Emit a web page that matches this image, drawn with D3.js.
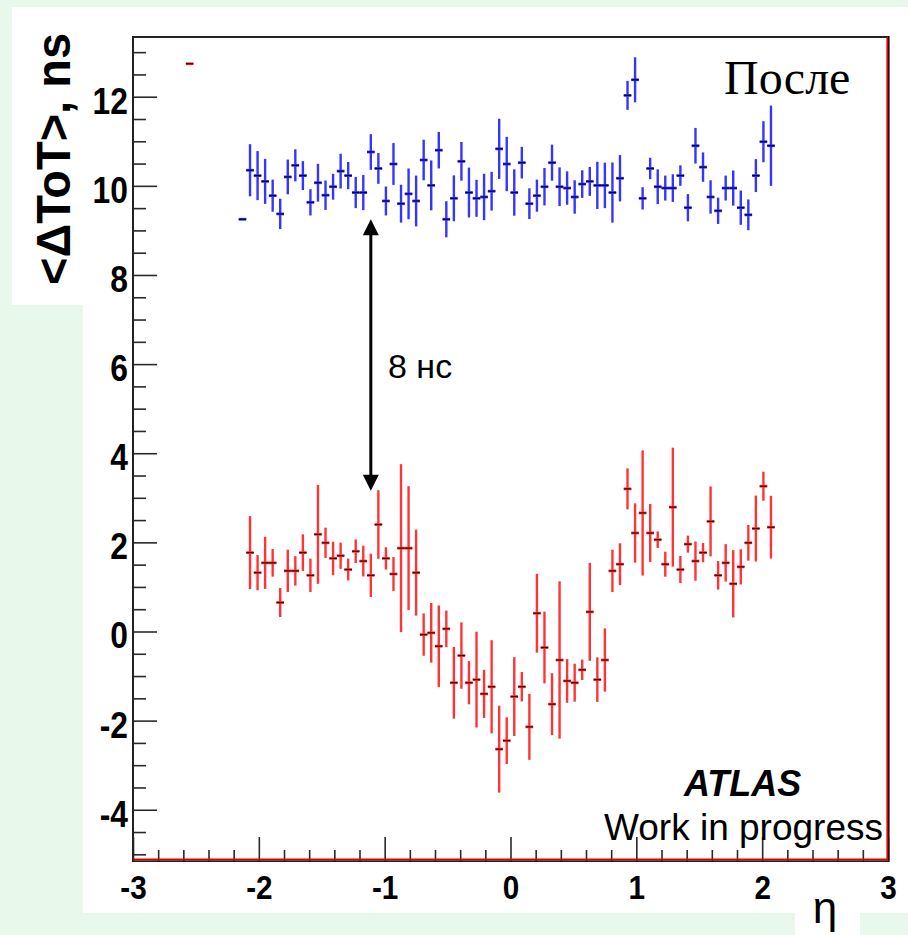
<!DOCTYPE html>
<html>
<head>
<meta charset="utf-8">
<script src="https://cdn.jsdelivr.net/npm/d3@7"></script>
<style>
  html, body { margin: 0; padding: 0; background: #e8f8ea; }
  svg { display: block; }
</style>
</head>
<body>
<svg id="chart" width="908" height="935"></svg>
<script>
// η bin centres (bin width 0.06) for the measured points
const etaCenters = [
  -2.07, -2.01, -1.95, -1.89, -1.83, -1.77, -1.71, -1.65, -1.59, -1.53,
  -1.47, -1.41, -1.35, -1.29, -1.23, -1.17, -1.11, -1.05, -0.99, -0.93,
  -0.87, -0.81, -0.75, -0.69, -0.63, -0.57, -0.51, -0.45, -0.39, -0.33,
  -0.27, -0.21, -0.15, -0.09, -0.03, 0.03, 0.09, 0.15, 0.21, 0.27,
  0.33, 0.39, 0.45, 0.51, 0.57, 0.63, 0.69, 0.75, 0.81, 0.87,
  0.93, 0.99, 1.05, 1.11, 1.17, 1.23, 1.29, 1.35, 1.41, 1.47,
  1.53, 1.59, 1.65, 1.71, 1.77, 1.83, 1.89, 1.95, 2.01, 2.07
];
const binWidth = 0.06;

// <ΔToT> after correction (blue)
const afterValues = [
  10.35, 10.23, 10.10, 9.78, 9.37, 10.20, 10.46, 10.23, 9.63, 10.07,
  9.79, 9.98, 10.33, 10.23, 9.85, 9.85, 10.76, 10.39, 9.66, 10.49,
  9.60, 9.82, 9.66, 10.58, 10.01, 10.80, 9.25, 9.72, 10.55, 9.85,
  9.72, 9.75, 9.88, 10.83, 10.49, 9.85, 10.52, 9.60, 9.78, 9.98,
  10.52, 9.98, 9.95, 9.75, 10.04, 10.10, 10.01, 10.01, 9.85, 10.17,
  12.03, 12.38, 9.72, 10.39, 9.98, 9.95, 9.95, 10.23, 9.51, 10.90,
  10.42, 9.75, 9.44, 9.95, 9.95, 9.51, 9.35, 10.23, 10.99, 10.90
];
const afterErrors = [
  0.585, 0.55, 0.505, 0.36, 0.34, 0.39, 0.36, 0.325, 0.295, 0.425,
  0.33, 0.29, 0.39, 0.305, 0.35, 0.395, 0.40, 0.345, 0.325, 0.47,
  0.425, 0.57, 0.57, 0.455, 0.56, 0.41, 0.405, 0.515, 0.435, 0.56,
  0.415, 0.52, 0.435, 0.675, 0.61, 0.52, 0.355, 0.345, 0.36, 0.42,
  0.405, 0.435, 0.375, 0.375, 0.31, 0.325, 0.53, 0.51, 0.675, 0.52,
  0.325, 0.505, 0.25, 0.24, 0.39, 0.28, 0.31, 0.23, 0.305, 0.40,
  0.33, 0.375, 0.295, 0.28, 0.395, 0.385, 0.345, 0.37, 0.46, 0.90
];

// <ΔToT> before correction (red)
const beforeValues = [
  1.77, 1.32, 1.54, 1.54, 0.65, 1.36, 1.36, 1.77, 1.26, 2.18,
  1.99, 1.64, 1.70, 1.39, 1.80, 1.58, 1.26, 2.40, 1.64, 1.29,
  1.87, 1.87, 1.32, -0.07, -0.03, -0.33, 0.06, -1.15, -0.54, -1.15,
  -1.08, -1.40, -1.24, -2.64, -2.45, -1.46, -1.24, -2.14, 0.41, -0.36,
  -1.63, -0.64, -1.11, -1.15, -0.86, 0.44, -1.08, -0.64, 1.36, 1.51,
  3.20, 2.21, 2.66, 2.21, 2.06, 1.51, 2.79, 1.39, 1.96, 1.58,
  1.77, 2.47, 1.26, 1.54, 1.07, 1.45, 1.99, 2.31, 3.26, 2.34
];
const beforeErrors = [
  0.82, 0.395, 0.585, 0.31, 0.325, 0.475, 0.33, 0.41, 0.375, 1.11,
  0.34, 0.375, 0.295, 0.245, 0.265, 0.345, 0.485, 0.77, 0.25, 0.38,
  1.885, 1.39, 0.965, 0.475, 0.67, 0.915, 0.41, 0.805, 0.745, 0.485,
  1.075, 0.54, 1.045, 0.975, 0.525, 0.885, 0.33, 0.74, 0.885, 0.805,
  0.695, 1.765, 0.49, 0.425, 0.23, 1.10, 0.50, 0.71, 0.475, 0.47,
  0.46, 0.665, 1.405, 0.65, 0.185, 0.28, 1.335, 0.305, 0.19, 0.44,
  0.215, 0.785, 0.32, 0.42, 0.755, 0.395, 0.40, 0.74, 0.325, 0.705
];

// single-entry bins without error (edge bins)
const afterEdge = [{ eta: -2.13, v: 9.25, e: 0 }];
const beforeEdge = [{ eta: -2.55, v: 12.74, e: 0 }];

// axis ticks
const xMajorTicks = [-3, -2, -1, 0, 1, 2, 3];
const yMajorTicks = [-4, -2, 0, 2, 4, 6, 8, 10, 12];

// arrow marking the 8 ns shift
const shiftArrow = { eta: -1.11, from: 9.25, to: 3.16 };

const svg = d3.select("#chart");
const SANS = "'Liberation Sans', Arial, Helvetica, sans-serif";

// page panels
svg.append("rect").attr("x", 83).attr("y", 7).attr("width", 825).attr("height", 906).attr("fill", "#fff");
svg.append("rect").attr("x", 12).attr("y", 7).attr("width", 72).attr("height", 298).attr("fill", "#fff");
svg.append("rect").attr("x", 795).attr("y", 912).attr("width", 65).attr("height", 23).attr("fill", "#fff");

const x = d3.scaleLinear().domain([-3, 3]).range([133, 888]);
const y = d3.scaleLinear().domain([-5.15, 13.34]).range([861, 37]);

const tickColor = "#2a2a2a";

// y axis
const yMinor = d3.range(-5, 13.01, 0.5).filter(v => Math.abs(v % 2) > 1e-6);
const gyMinor = svg.append("g").attr("transform", "translate(133,0)")
  .call(d3.axisLeft(y).tickValues(yMinor).tickSize(-13).tickFormat(""));
const gy = svg.append("g").attr("transform", "translate(133,0)")
  .call(d3.axisLeft(y).tickValues(yMajorTicks).tickSize(-24).tickFormat(d => String(d)));
[gyMinor, gy].forEach(g => {
  g.select(".domain").remove();
  g.selectAll("line").attr("stroke", tickColor).attr("stroke-width", 1.6);
});
const ySx = 0.86;
gy.selectAll("text")
  .attr("font-family", SANS).attr("font-weight", "bold").attr("font-size", 37)
  .attr("fill", "#000").attr("text-anchor", "end")
  .attr("transform", `scale(${ySx},1)`)
  .attr("x", -5 / ySx).attr("y", 16.5).attr("dy", null);

// x axis
const xMinor = d3.range(-3, 3.001, 0.2).filter(v => Math.abs(v - Math.round(v)) > 1e-6);
const gxMinor = svg.append("g").attr("transform", "translate(0,861)")
  .call(d3.axisBottom(x).tickValues(xMinor).tickSize(-11).tickFormat(""));
const gx = svg.append("g").attr("transform", "translate(0,861)")
  .call(d3.axisBottom(x).tickValues(xMajorTicks).tickSize(-24).tickFormat(d => String(d)));
[gxMinor, gx].forEach(g => {
  g.select(".domain").remove();
  g.selectAll("line").attr("stroke", tickColor).attr("stroke-width", 1.6);
});
const xSx = 0.9;
gx.selectAll("text")
  .attr("font-family", SANS).attr("font-weight", "bold").attr("font-size", 33)
  .attr("fill", "#000").attr("text-anchor", "middle")
  .attr("transform", `scale(${xSx},1)`)
  .attr("x", 0).attr("y", 38).attr("dy", null);

// error-bar series
function drawSeries(points, col, dark) {
  const g = svg.append("g");
  const withErr = points.filter(p => p.e > 0);
  g.selectAll("line.v").data(withErr).join("line")
    .attr("x1", p => x(p.eta)).attr("x2", p => x(p.eta))
    .attr("y1", p => y(p.v + p.e)).attr("y2", p => y(p.v - p.e))
    .attr("stroke", col).attr("stroke-width", 2.4);
  g.selectAll("line.h").data(points).join("line")
    .attr("x1", p => x(p.eta - binWidth / 2)).attr("x2", p => x(p.eta + binWidth / 2))
    .attr("y1", p => y(p.v)).attr("y2", p => y(p.v))
    .attr("stroke", col).attr("stroke-width", 2.8);
  g.selectAll("line.hc").data(points).join("line")
    .attr("x1", p => x(p.eta - binWidth / 2)).attr("x2", p => x(p.eta + binWidth / 2))
    .attr("y1", p => y(p.v)).attr("y2", p => y(p.v))
    .attr("stroke", dark).attr("stroke-width", 1.2);
}
const afterPts = afterEdge.concat(etaCenters.map((eta, i) => ({ eta, v: afterValues[i], e: afterErrors[i] })));
const beforePts = beforeEdge.concat(etaCenters.map((eta, i) => ({ eta, v: beforeValues[i], e: beforeErrors[i] })));
drawSeries(beforePts, "#ff3535", "#400000");
drawSeries(afterPts, "#3535ff", "#000050");

// frame
svg.append("line").attr("x1", 133).attr("x2", 889).attr("y1", 37).attr("y2", 37).attr("stroke", "#222").attr("stroke-width", 2);
svg.append("line").attr("x1", 133).attr("x2", 133).attr("y1", 36).attr("y2", 862).attr("stroke", "#222").attr("stroke-width", 2);
svg.append("line").attr("x1", 888.8).attr("x2", 888.8).attr("y1", 36).attr("y2", 862).attr("stroke", "#300").attr("stroke-width", 1.6);
svg.append("line").attr("x1", 887.2).attr("x2", 887.2).attr("y1", 37).attr("y2", 860).attr("stroke", "#e00000").attr("stroke-width", 1.6);
svg.append("line").attr("x1", 132).attr("x2", 889).attr("y1", 861.2).attr("y2", 861.2).attr("stroke", "#222").attr("stroke-width", 1.8);
svg.append("line").attr("x1", 133).attr("x2", 888).attr("y1", 859.4).attr("y2", 859.4).attr("stroke", "#e00000").attr("stroke-width", 1.6);

// double arrow
const ax = x(shiftArrow.eta), yTop = y(shiftArrow.from), yBot = y(shiftArrow.to);
const headL = 16, headW = 8;
svg.append("line").attr("x1", ax).attr("x2", ax).attr("y1", yTop + headL - 1).attr("y2", yBot - headL + 1)
  .attr("stroke", "#000").attr("stroke-width", 3);
svg.append("path").attr("d", `M${ax},${yTop} L${ax - headW},${yTop + headL} L${ax + headW},${yTop + headL} Z`).attr("fill", "#000");
svg.append("path").attr("d", `M${ax},${yBot} L${ax - headW},${yBot - headL} L${ax + headW},${yBot - headL} Z`).attr("fill", "#000");

// texts
svg.append("text").attr("x", 388).attr("y", 378).attr("font-family", SANS).attr("font-size", 34).text("8 нс");
svg.append("text").attr("x", 724).attr("y", 94).attr("font-family", "'Liberation Serif', 'Times New Roman', serif")
  .attr("font-size", 48).text("После");
svg.append("text").attr("x", 684).attr("y", 796).attr("font-family", SANS).attr("font-weight", "bold")
  .attr("font-style", "italic").attr("font-size", 36).text("ATLAS");
svg.append("text").attr("x", 604).attr("y", 840).attr("font-family", SANS).attr("font-size", 37).text("Work in progress");
svg.append("text").attr("transform", "translate(70,33) rotate(-90)").attr("text-anchor", "end")
  .attr("font-family", SANS).attr("font-weight", "bold").attr("font-size", 48)
  .attr("textLength", 252).attr("lengthAdjust", "spacingAndGlyphs").text("<ΔToT>, ns");
svg.append("text").attr("x", 825).attr("y", 923).attr("text-anchor", "middle")
  .attr("font-family", SANS).attr("font-size", 44).text("η");
</script>
</body>
</html>
